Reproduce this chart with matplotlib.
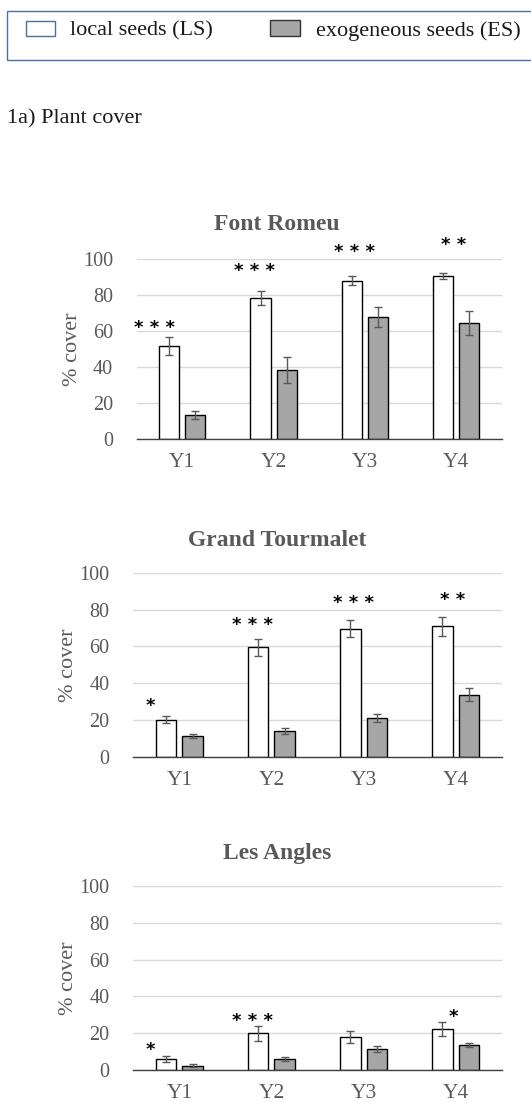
import matplotlib.pyplot as plt
import numpy as np
from matplotlib.patches import Rectangle

plt.rcParams["font.family"] = ["Liberation Serif", "DejaVu Serif"]

YEARS = ["Y1", "Y2", "Y3", "Y4"]
SITES = ["Font Romeu", "Grand Tourmalet", "Les Angles"]

# mean % cover and error per year, local seeds (LS) vs exogeneous seeds (ES)
LS_FR = [52.0, 78.5, 88.0, 90.8]
LS_FR_ERR = [5.0, 3.9, 2.5, 1.7]
ES_FR = [13.3, 38.5, 67.8, 64.6]
ES_FR_ERR = [2.2, 7.1, 5.6, 6.7]

LS_GT = [20.3, 59.5, 69.6, 70.9]
LS_GT_ERR = [2.0, 4.5, 4.5, 5.0]
ES_GT = [11.4, 14.3, 21.2, 33.8]
ES_GT_ERR = [1.2, 1.6, 2.0, 3.5]

LS_LA = [6.0, 19.9, 17.8, 22.3]
LS_LA_ERR = [1.5, 4.0, 3.2, 3.7]
ES_LA = [2.4, 6.0, 11.4, 13.4]
ES_LA_ERR = [0.8, 1.2, 1.4, 1.1]

# significance of LS vs ES per year
SIG_FR = ["***", "***", "***", "**"]
SIG_GT = ["*", "***", "***", "**"]
SIG_LA = ["*", "***", "", "*"]

# height at which each significance label is written
SIG_Y_FR = [62.0, 93.5, 104.0, 107.8]
SIG_Y_GT = [27.8, 71.4, 83.4, 85.2]
SIG_Y_LA = [10.9, 26.4, 0.0, 29.0]

PANELS = [
    (LS_FR, LS_FR_ERR, ES_FR, ES_FR_ERR, SIG_FR, SIG_Y_FR),
    (LS_GT, LS_GT_ERR, ES_GT, ES_GT_ERR, SIG_GT, SIG_Y_GT),
    (LS_LA, LS_LA_ERR, ES_LA, ES_LA_ERR, SIG_LA, SIG_Y_LA),
]

W, H = 531, 1102
# axes boxes in pixels: left, right, top (y=100), bottom (y=0)
BOXES = [
    (136.7, 501.7, 259.3, 439.0),
    (133.3, 501.7, 572.7, 757.0),
    (133.3, 501.7, 886.0, 1070.0),
]
TITLE_Y = [225, 540, 853]
STAR_DX = [-0.31, -0.21, -0.11, -0.03]

GREY_TXT = "#595959"
ES_FILL = "#a6a6a6"

fig = plt.figure(figsize=(W / 100, H / 100), dpi=100)

# legend strip at the top
fig.patches.append(Rectangle((6.7 / W, 1 - 60 / H), 1.0, 49 / H, transform=fig.transFigure,
                             fill=False, edgecolor="#4a6fa5", linewidth=1.0))
fig.patches.append(Rectangle((26 / W, 1 - 36 / H), 29 / W, 15.5 / H, transform=fig.transFigure,
                             facecolor="white", edgecolor="#4a6fa5", linewidth=1.0))
fig.patches.append(Rectangle((269.5 / W, 1 - 36 / H), 30 / W, 16 / H, transform=fig.transFigure,
                             facecolor=ES_FILL, edgecolor="#333333", linewidth=1.0))
fig.text(70 / W, 1 - 31 / H, "local seeds (LS)", fontsize=16, va="center", ha="left", color="#1a1a1a")
fig.text(315.5 / W, 1 - 31 / H, "exogeneous seeds (ES)", fontsize=16, va="center", ha="left", color="#1a1a1a")
fig.text(7 / W, 1 - 119 / H, "1a) Plant cover", fontsize=16, va="center", ha="left", color="#1a1a1a")

x = np.arange(len(YEARS))
bw = 0.22
off = 0.143

for (ls, ls_err, es, es_err, sig, sig_y), (l, r, t, b), site, ty in zip(PANELS, BOXES, SITES, TITLE_Y):
    ax = fig.add_axes([l / W, 1 - b / H, (r - l) / W, (b - t) / H])
    ax.bar(x - off, ls, bw, color="white", edgecolor="black", linewidth=1.0, zorder=2)
    ax.bar(x + off, es, bw, color=ES_FILL, edgecolor="black", linewidth=1.0, zorder=2)
    ax.errorbar(x - off, ls, yerr=ls_err, fmt="none", ecolor=GREY_TXT, elinewidth=1.0,
                capsize=3, capthick=1.0, zorder=3)
    ax.errorbar(x + off, es, yerr=es_err, fmt="none", ecolor=GREY_TXT, elinewidth=1.0,
                capsize=3, capthick=1.0, zorder=3)

    for i, (s, sy) in enumerate(zip(sig, sig_y)):
        if s:
            ax.text(x[i] + STAR_DX[i], sy, " ".join(s), ha="center", va="center",
                    fontsize=13, fontweight="bold", color="black", clip_on=False,
                    family=["DejaVu Sans"])

    ax.set_xlim(-0.5, len(YEARS) - 0.5)
    ax.set_ylim(0, 100)
    ax.set_yticks([0, 20, 40, 60, 80, 100])
    ax.set_xticks(x)
    ax.set_xticklabels(YEARS)
    ax.tick_params(axis="both", length=0, colors=GREY_TXT)
    ax.tick_params(axis="y", labelsize=14.5, pad=17)
    ax.tick_params(axis="x", labelsize=15.5, pad=10)
    ax.grid(axis="y", color="#d9d9d9", linewidth=1.0, zorder=0)
    ax.set_axisbelow(True)
    for side in ("top", "right", "left"):
        ax.spines[side].set_visible(False)
    ax.spines["bottom"].set_color("#404040")
    ax.spines["bottom"].set_linewidth(1.0)
    ax.set_ylabel("% cover", fontsize=16, color=GREY_TXT, labelpad=1)
    fig.text(277 / W, 1 - ty / H, site, fontsize=17, fontweight="bold", color=GREY_TXT,
             ha="center", va="center")

fig.savefig("out.png", dpi=100)
